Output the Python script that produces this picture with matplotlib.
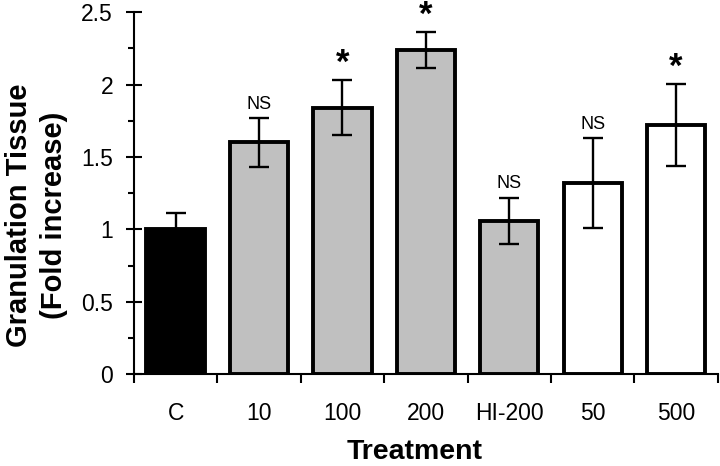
import matplotlib
matplotlib.use("Agg")
import matplotlib.pyplot as plt
import numpy as np

plt.rcParams['font.family'] = ['Liberation Sans', 'DejaVu Sans']

# data
groups = ["C", "10", "100", "200", "HI-200", "50", "500"]
values = [1.00, 1.60, 1.84, 2.24, 1.06, 1.32, 1.72]
errors = [0.11, 0.17, 0.19, 0.125, 0.16, 0.31, 0.285]
marks = ["", "NS", "*", "*", "NS", "NS", "*"]
fills = ["black", "#c0c0c0", "#c0c0c0", "#c0c0c0", "#c0c0c0", "white", "white"]

fig = plt.figure(figsize=(7.2, 4.66), dpi=100)
ax = fig.add_axes([0.186, 0.197, 0.811, 0.777])

x = np.arange(len(groups))
ax.bar(x, values, width=0.70, color=fills, edgecolor="black", linewidth=2.8, zorder=2)
ax.errorbar(x, values, yerr=errors, fmt="none", ecolor="black",
            elinewidth=1.7, capsize=7, capthick=1.7, zorder=3)

for xi, v, e, m in zip(x, values, errors, marks):
    if m == "NS":
        ax.text(xi, v + e + 0.035, m, ha="center", va="bottom", fontsize=13)
    elif m == "*":
        ax.text(xi, v + e + 0.0, m, ha="center", va="bottom", fontsize=25, fontweight="bold")

ax.set_xlim(-0.5, len(groups) - 0.5)
ax.set_ylim(0, 2.5)

# ticks at group boundaries, labels at group centres
ax.set_xticks(np.arange(len(groups) + 1) - 0.5)
ax.set_xticklabels([])
ax.set_xticks(x, minor=True)
ax.set_xticklabels(groups, minor=True, fontsize=16.5)
ax.tick_params(axis="x", which="major", direction="out", length=6.5, width=1.5)
ax.tick_params(axis="x", which="minor", length=0, pad=20)

ax.set_yticks(np.arange(0, 2.51, 0.5))
ax.set_yticklabels(["0", "0.5", "1", "1.5", "2", "2.5"], fontsize=16.5)
ax.set_yticks(np.arange(0.25, 2.5, 0.5), minor=True)
ax.tick_params(axis="y", which="major", direction="inout", length=12, width=1.5, pad=9)
ax.tick_params(axis="y", which="minor", direction="out", length=4.5, width=1.5)

for s in ["top", "right"]:
    ax.spines[s].set_visible(False)
for s in ["left", "bottom"]:
    ax.spines[s].set_linewidth(1.5)

ax.set_ylabel("Granulation Tissue\n(Fold increase)", fontsize=21, fontweight="bold",
              linespacing=1.3)
ax.yaxis.set_label_coords(-0.113, 0.44)
ax.set_xlabel("Treatment", fontsize=20.5, fontweight="bold")
ax.xaxis.set_label_coords(0.48, -0.18)

fig.savefig("out.png", dpi=100)
